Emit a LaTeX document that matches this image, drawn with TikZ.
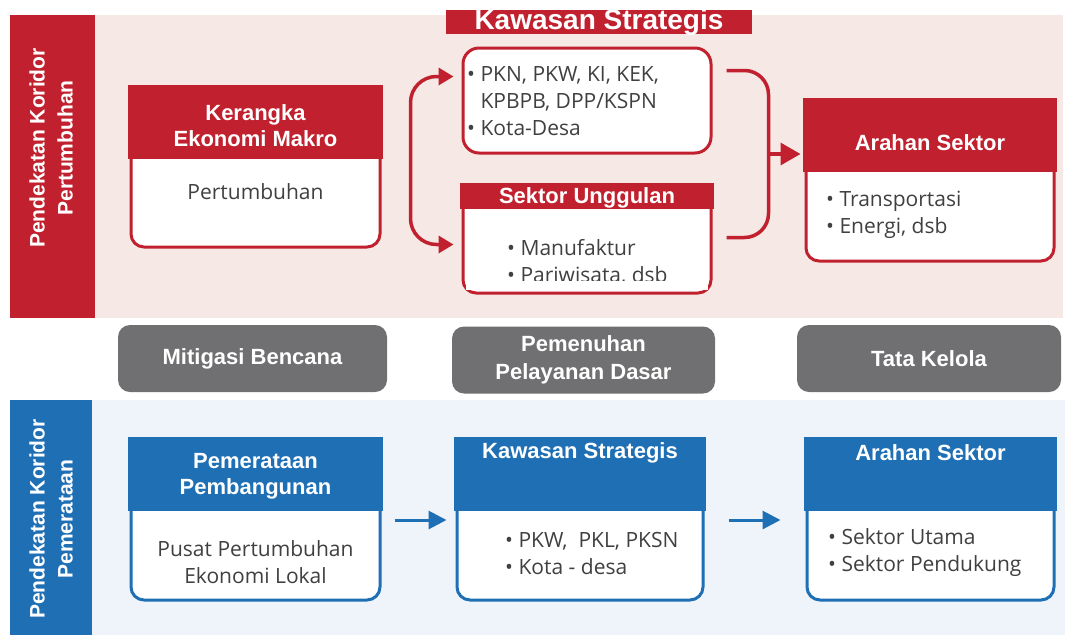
\documentclass[tikz,border=0pt]{standalone}
\usepackage{fontspec}
\setmainfont{Open Sans}
\newfontfamily\hb{Liberation Sans}
\usetikzlibrary{arrows.meta,calc}
\definecolor{kred}{RGB}{193,33,46}
\definecolor{kpink}{RGB}{246,232,228}
\definecolor{kblue}{RGB}{31,111,181}
\definecolor{klblue}{RGB}{238,244,250}
\definecolor{kgray}{RGB}{112,112,114}
\definecolor{ktxt}{RGB}{64,64,64}
\begin{document}
\begin{tikzpicture}[x=1pt,y=-1pt,
  frame/.style={draw=#1, line width=3pt, fill=white, rounded corners=13pt, inner sep=0pt},
  hdr/.style={font=\hb\bfseries\fontsize{22}{26}\selectfont, text=white, align=center, inner sep=0pt},
  side/.style={font=\hb\bfseries\fontsize{21}{28}\selectfont, text=white, align=center, rotate=90, inner sep=0pt},
  body/.style={font=\fontsize{21}{27}\selectfont, text=ktxt, align=left, inner sep=0pt},
  gbox/.style={fill=kgray, rounded corners=12pt, inner sep=0pt, font=\hb\bfseries\fontsize{22}{28}\selectfont, text=white, align=center},
  rline/.style={draw=kred, line width=3.5pt},
  rarr/.style={draw=kred, line width=3.5pt, -{Triangle[length=20pt,width=22pt]}},
  rboth/.style={draw=kred, line width=3.5pt, {Triangle[length=15pt,width=17pt]}-{Triangle[length=15pt,width=17pt]}},
  barr/.style={draw=kblue, line width=3pt, -{Triangle[length=18pt,width=18pt]}}
]
\useasboundingbox (0,0) rectangle (1065,635);
\fill[white] (0,0) rectangle (1065,635);

% ---------- top (red) panel ----------
\fill[kpink] (95,15) rectangle (1063,318);
\fill[kred] (10,15) rectangle (95,318);
\node[side] (sideR) at (51,148) {Pendekatan Koridor\\Pertumbuhan};

\fill[kred] (446,10) rectangle (752,34);
\begin{scope}
  \clip (446,10) rectangle (752,40);
  \node[font=\hb\bfseries\fontsize{28}{32}\selectfont, text=white, anchor=base, inner sep=0pt] (ksban) at (599,29.5) {Kawasan Strategis};
\end{scope}

% Kerangka Ekonomi Makro
\node[frame=kred, minimum width=249pt, minimum height=159pt] (kem) at (255.5,167.5) {};
\fill[kred] ($(kem.north west)+(-1.5,-1.5)$) rectangle ($(kem.north east)+(1.5,72)$);
\node[hdr] (kemh) at (255.5,126) {Kerangka\\Ekonomi Makro};
\node[body] (kemb) at (255.5,192) {Pertumbuhan};

% Kawasan Strategis (top)
\node[frame=kred, rounded corners=16pt, minimum width=248pt, minimum height=105pt] (ks1) at (587,100.5) {};
\node[body, anchor=west] (ks1t) at (467,101) {• PKN, PKW, KI, KEK,\\\phantom{• }KPBPB, DPP/KSPN\\• Kota-Desa};

% Sektor Unggulan
\node[frame=kred, minimum width=248pt, minimum height=107pt] (su) at (587,239.5) {};
\fill[kred] ($(su.north west)+(-1.5,-1.5)$) rectangle ($(su.north east)+(1.5,24)$);
\node[hdr] (suh) at (587,198) {Sektor Unggulan};
\node[body, anchor=west] (sut) at (507,262) {• Manufaktur\\• Pariwisata, dsb};
\fill[white] (466,281) rectangle (708,290);

% Arahan Sektor (red)
\node[frame=kred, minimum width=248pt, minimum height=160pt] (ar) at (930,181) {};
\fill[kred] ($(ar.north west)+(-1.5,-1.5)$) rectangle ($(ar.north east)+(1.5,72)$);
\node[hdr] (arh) at (930,143) {Arahan Sektor};
\node[body, anchor=west] (art) at (826,215) {• Transportasi\\• Energi, dsb};

% connectors (red)
\coordinate (la1) at ($(ks1.west)+(-8,-24)$);
\coordinate (la2) at ($(su.west)+(-8,5)$);
\draw[rboth, rounded corners=26pt] (la1) -- ($(la1)+(-43,0)$) -- ($(la2)+(-43,0)$) -- (la2);

\coordinate (rb1) at ($(ks1.east)+(14,-30)$);
\coordinate (rb2) at ($(su.east)+(14,-2)$);
\draw[rline, rounded corners=24pt] (rb1) -- ($(rb1)+(42,0)$) -- ($(rb2)+(42,0)$) -- (rb2);
\path ($(rb1)!0.5!(rb2)$) ++(42,0) coordinate (rm);
\draw[rarr] (rm) -- ([xshift=-4pt]rm -| ar.west);

% ---------- middle (gray) ----------
\node[gbox, minimum width=269pt, minimum height=67pt] (mit) at (252.5,358.5) {Mitigasi Bencana};
\node[gbox, minimum width=263pt, minimum height=67pt] (pel) at (583.5,360) {Pemenuhan\\Pelayanan Dasar};
\node[gbox, minimum width=264pt, minimum height=67pt] (tk) at (929,358.5) {Tata Kelola};

% ---------- bottom (blue) panel ----------
\fill[klblue] (92,400) rectangle (1065,635);
\fill[kblue] (10,400) rectangle (92,635);
\node[side] (sideB) at (51,519) {Pendekatan Koridor\\Pemerataan};

% Pemerataan Pembangunan
\node[frame=kblue, minimum width=249pt, minimum height=160pt] (pp) at (255.5,520) {};
\fill[kblue] ($(pp.north west)+(-1.5,-1.5)$) rectangle ($(pp.north east)+(1.5,72)$);
\node[hdr] (pph) at (255.5,476) {Pemerataan\\Pembangunan};
\node[body, align=center] (ppt) at (255.5,562) {Pusat Pertumbuhan\\Ekonomi Lokal};

% Kawasan Strategis (blue)
\node[frame=kblue, minimum width=246pt, minimum height=160pt] (ksb) at (580,520) {};
\fill[kblue] ($(ksb.north west)+(-1.5,-1.5)$) rectangle ($(ksb.north east)+(1.5,72)$);
\node[hdr] (ksbh) at (580,453) {Kawasan Strategis};
\node[body, anchor=west] (ksbt) at (505,553) {• PKW,\ \ PKL, PKSN\\• Kota\ - desa};

% Arahan Sektor (blue)
\node[frame=kblue, minimum width=247pt, minimum height=160pt] (asb) at (930.5,520) {};
\fill[kblue] ($(asb.north west)+(-1.5,-1.5)$) rectangle ($(asb.north east)+(1.5,72)$);
\node[hdr] (asbh) at (930.5,453) {Arahan Sektor};
\node[body, anchor=west] (asbt) at (828,553) {• Sektor Utama\\• Sektor Pendukung};

% connectors (blue)
\draw[barr] ([xshift=13pt]pp.east) -- ([xshift=-9pt]ksb.west);
\draw[barr] ([xshift=24pt]ksb.east) -- ([xshift=-25pt]asb.west);
\end{tikzpicture}
\end{document}
